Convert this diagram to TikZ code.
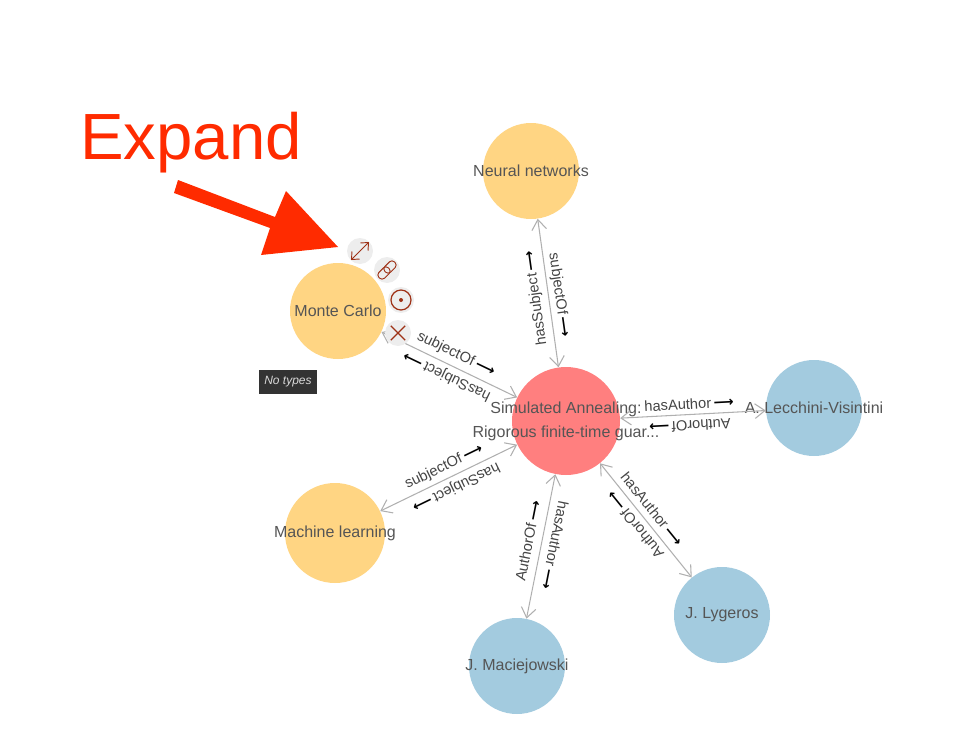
\documentclass[tikz,border=0pt]{standalone}
\usepackage{fontspec}
\usetikzlibrary{arrows.meta}
\setmainfont{Liberation Sans}
\newfontfamily\arrowfont{DejaVu Sans Bold}
\definecolor{subj}{HTML}{FFD583}
\definecolor{auth}{HTML}{A3CBDF}
\definecolor{paper}{HTML}{FF7F7F}
\definecolor{labelgray}{HTML}{555555}
\definecolor{reltext}{HTML}{444444}
\definecolor{edgegray}{HTML}{B0B0B0}
\definecolor{iconred}{HTML}{9E3116}
\definecolor{bang}{HTML}{FF2B00}
\tikzset{
  circ/.style={circle,inner sep=0pt,minimum size=#1*0.75pt,text=labelgray,font=\fontsize{12}{18}\selectfont},
  rel/.style={draw=edgegray,line width=0.8pt,{Straight Barb[length=7.5pt,width=11pt]}-{Straight Barb[length=7.5pt,width=11pt]}},
  edgelab/.style={inner sep=0pt,text=reltext,font=\fontsize{11}{12}\selectfont},
  iconbg/.style={circle,fill=black!7,inner sep=0pt,minimum size=19.5pt},
  iconline/.style={draw=iconred,line width=0.7pt},
}
\newcommand{\fw}{\,{\color{black}\arrowfont\fontsize{10.5}{12}\selectfont ⟶}}
\begin{document}
\begin{tikzpicture}[x=0.75pt,y=-0.75pt]
\useasboundingbox (0,0) rectangle (954,753);
\node[circ=108,fill=paper] (sa) at (566,421) {\makebox[0pt]{\shortstack[c]{Simulated Annealing:\\[4pt]Rigorous finite-time guar...}}};
\node[circ=96,fill=subj] (mc) at (338,311) {\makebox[0pt]{Monte Carlo}};
\node[circ=96,fill=subj] (nn) at (531,171) {\makebox[0pt]{Neural networks}};
\node[circ=100,fill=subj] (ml) at (335,533) {\makebox[0pt]{Machine learning}};
\node[circ=96,fill=auth] (al) at (814,408) {\makebox[0pt]{A. Lecchini-Visintini}};
\node[circ=96,fill=auth] (jl) at (722,615) {\makebox[0pt]{J. Lygeros}};
\node[circ=96,fill=auth] (jm) at (517,666) {\makebox[0pt]{J. Maciejowski}};

\draw[rel] (mc) -- (sa);
\draw[rel] (nn) -- (sa);
\draw[rel] (ml) -- (sa);
\draw[rel] (al) -- (sa);
\draw[rel] (jl) -- (sa);
\draw[rel] (jm) -- (sa);

\node[edgelab,rotate=-25.7] (l1) at (456,354) {subjectOf\fw};
\node[edgelab,rotate=154.3] (l2) at (447,376) {hasSubject\fw};
\node[edgelab,rotate=-82] (l3) at (559,295) {subjectOf\fw};
\node[edgelab,rotate=98] (l4) at (536,298) {hasSubject\fw};
\node[edgelab,rotate=25.9] (l5) at (444,467) {subjectOf\fw};
\node[edgelab,rotate=205.9] (l6) at (456,487) {hasSubject\fw};
\node[edgelab,rotate=3] (l7) at (689,404) {hasAuthor\fw};
\node[edgelab,rotate=183] (l8) at (690,426) {AuthorOf\fw};
\node[edgelab,rotate=-51] (l9) at (652,509) {hasAuthor\fw};
\node[edgelab,rotate=129] (l10) at (635,525) {AuthorOf\fw};
\node[edgelab,rotate=78.7] (l11) at (528,541) {AuthorOf\fw};
\node[edgelab,rotate=-101.3] (l12) at (555,545) {hasAuthor\fw};

\fill[bang] (178,180) -- (275,217) -- (286,191) -- (338,247) -- (261,255) -- (270,228) -- (174,193) -- cycle;
\node[inner sep=0pt,anchor=base,text=bang,font=\fontsize{49}{50}\selectfont] (exp) at (191,159) {Expand};

\node[iconbg] (i1) at (360,251) {};
\node[iconbg] (i2) at (387,270) {};
\node[iconbg] (i3) at (401,300) {};
\node[iconbg] (i4) at (398,333) {};
\draw[iconline,{Straight Barb[length=4.5pt,width=8pt]}-{Straight Barb[length=4.5pt,width=8pt]}] ([shift={(-9,9)}]i1.center) -- ([shift={(9,-9)}]i1.center);
\begin{scope}[shift={(i2.center)},rotate=45]
\draw[iconline,rounded corners=2.6pt] (-11,-4) rectangle (2.5,4);
\draw[iconline,rounded corners=2.6pt] (-2.5,-4) rectangle (11,4);
\end{scope}
\draw[iconline,line width=0.9pt] (i3.center) circle (7.5pt);
\fill[iconred] (i3.center) circle (1.5pt);
\draw[iconline,line width=0.9pt] ([shift={(-7.2,-7.2)}]i4.center) -- ([shift={(7.2,7.2)}]i4.center);
\draw[iconline,line width=0.9pt] ([shift={(-7.2,7.2)}]i4.center) -- ([shift={(7.2,-7.2)}]i4.center);

\node[fill=black!80,text=black!15,inner sep=0pt,minimum width=43.5pt,minimum height=18pt,font=\fontsize{9}{11}\itshape\selectfont] (nt) at (288,382) {\raisebox{-1pt}{No types}};
\end{tikzpicture}
\end{document}
